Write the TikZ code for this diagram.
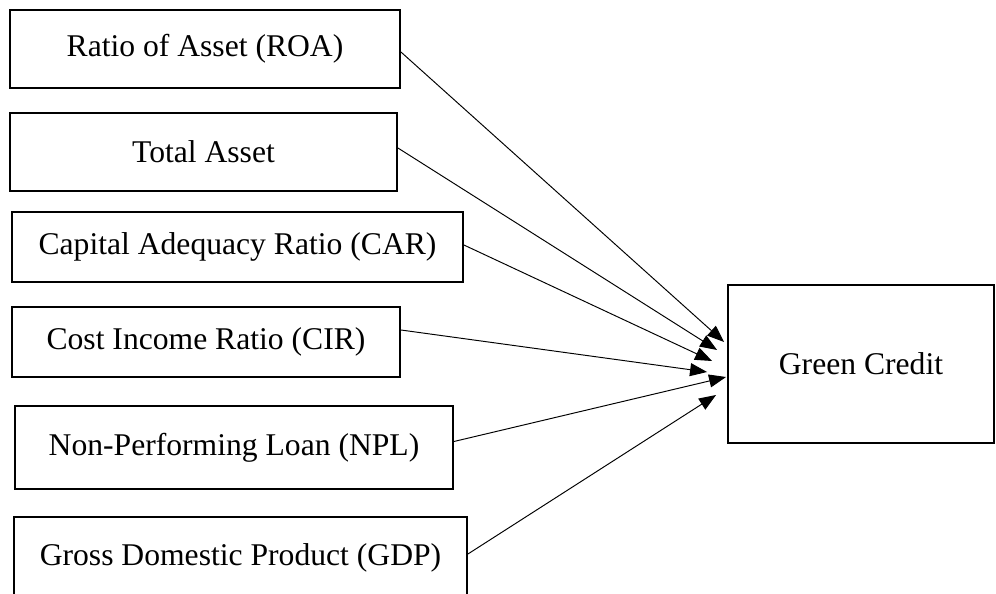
\documentclass[tikz,border=0pt]{standalone}
\usepackage{fontspec}
\setmainfont{Liberation Serif}
\usetikzlibrary{arrows.meta, positioning, calc}

\begin{document}
\begin{tikzpicture}[
    x=0.02cm, y=-0.02cm,
    >={Triangle[length=0.34cm,width=0.26cm]},
    factor/.style={rectangle, draw=black, line width=1.1pt, fill=white, text centered, inner sep=0pt, font=\fontsize{18}{22}\selectfont},
    target/.style={factor, minimum width=5.32cm, minimum height=3.16cm},
    arrow/.style={->, line width=0.55pt, draw=black}
]
\useasboundingbox (0,0) rectangle (996,594);
\clip (0,0) rectangle (996,594);

% DETERMINANTS (LEFT)
\node[factor, minimum width=7.8cm, minimum height=1.56cm] (roa) at (205,49) {Ratio of Asset (ROA)};
\node[factor, minimum width=7.74cm, minimum height=1.56cm] (asset) at (203.5,152) {Total Asset};
\node[factor, minimum width=9.02cm, minimum height=1.4cm] (car) at (237.5,247) {Capital Adequacy Ratio (CAR)};
\node[factor, minimum width=7.76cm, minimum height=1.4cm] (cir) at (206,342) {Cost Income Ratio (CIR)};
\node[factor, minimum width=8.76cm, minimum height=1.66cm] (npl) at (234,447.5) {Non-Performing Loan (NPL)};
\node[factor, minimum width=9.06cm, minimum height=1.64cm] (gdp) at (240.5,558) {Gross Domestic Product (GDP)};

% DEPENDENT VARIABLE (RIGHT)
\node[target] (green) at (861,364) {Green Credit};

\draw[arrow] ($(roa.east)+(0,3)$) -- ($(green.west)+(-3,-22)$);
\draw[arrow] ($(asset.east)+(0,-4)$) -- ($(green.west)+(-10,-14)$);
\draw[arrow] ($(car.east)+(0,-2)$) -- ($(green.west)+(-15,-3)$);
\draw[arrow] ($(cir.east)+(0,-12)$) -- ($(green.west)+(-20,8)$);
\draw[arrow] ($(npl.east)+(0,-6)$) -- ($(green.west)+(-1,13)$);
\draw[arrow] ($(gdp.east)+(0,-4)$) -- ($(green.west)+(-11,31)$);

\end{tikzpicture}
\end{document}
